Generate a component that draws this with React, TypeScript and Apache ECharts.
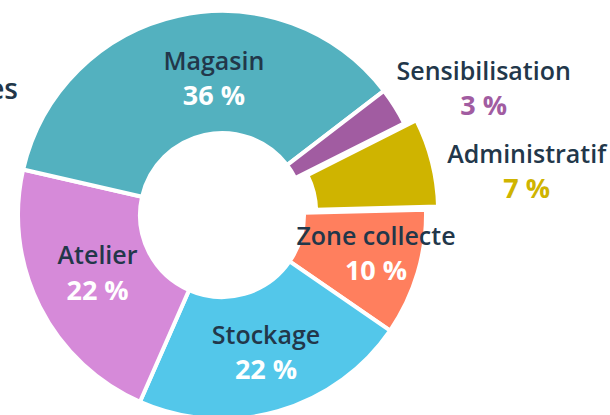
import { useEffect, useRef } from "react";
import * as echarts from "echarts";

const categories = ["Zone collecte", "Stockage", "Atelier", "Magasin", "Sensibilisation", "Administratif"];
const values = [10, 22, 22, 36, 3, 7];
const sliceColors = ["#ff7f5e", "#53c7ea", "#d68ad9", "#53b1bf", "#a15ca1", "#cfb400"];
const percentStyles = ["pw", "pw", "pw", "pw", "ps", "pa"];
const explodedSlices = [false, false, false, false, false, true];

const TEXT = "#22374a";
const FONT = "'Open Sans', Lato, sans-serif";

export default function App() {
  const ref = useRef<HTMLDivElement>(null);

  useEffect(() => {
    if (!ref.current) return;
    const chart = echarts.init(ref.current, undefined, { renderer: "svg" });

    const shift: number[][] = [
      [14, -4],
      [4, -4],
      [6, -9],
      [23, 5],
      [138, -50],
      [151, -6],
    ];

    const option: any = {
      animation: false,
      graphic: [
        {
          type: "text",
          right: 592,
          top: 74,
          style: {
            text: "es",
            fill: TEXT,
            font: `600 28px ${FONT}`,
            align: "right",
          },
        },
      ],
      series: [
        {
          type: "pie",
          center: [222, 215],
          radius: [82, 204],
          startAngle: 1.5,
          clockwise: true,
          selectedMode: "multiple",
          selectedOffset: 12.5,
          avoidLabelOverlap: false,
          emphasis: { disabled: true },
          itemStyle: { borderColor: "#ffffff", borderWidth: 4 },
          labelLine: { show: false },
          label: {
            show: true,
            position: "inside",
            formatter: (p: any) =>
              `{n|${p.name}}\n{${percentStyles[p.dataIndex]}|${p.value} %}`,
            rich: {
              n: { color: TEXT, fontSize: 25, fontWeight: 600, fontFamily: FONT, lineHeight: 35 },
              pw: { color: "#ffffff", fontSize: 27, fontWeight: "bold", fontFamily: FONT, lineHeight: 35 },
              ps: { color: sliceColors[4], fontSize: 27, fontWeight: "bold", fontFamily: FONT, lineHeight: 35 },
              pa: { color: sliceColors[5], fontSize: 27, fontWeight: "bold", fontFamily: FONT, lineHeight: 35 },
            },
          },
          labelLayout: (p: any) => ({ dx: shift[p.dataIndex][0], dy: shift[p.dataIndex][1] }),
          data: categories.map((name, i) => ({
            name,
            value: values[i],
            selected: explodedSlices[i],
            itemStyle: { color: sliceColors[i] },
          })),
        },
      ],
    };

    chart.setOption(option);
    return () => chart.dispose();
  }, []);

  return (
    <div
      ref={ref}
      style={{ position: "absolute", left: 0, top: 0, width: 610, height: 415 }}
    />
  );
}
